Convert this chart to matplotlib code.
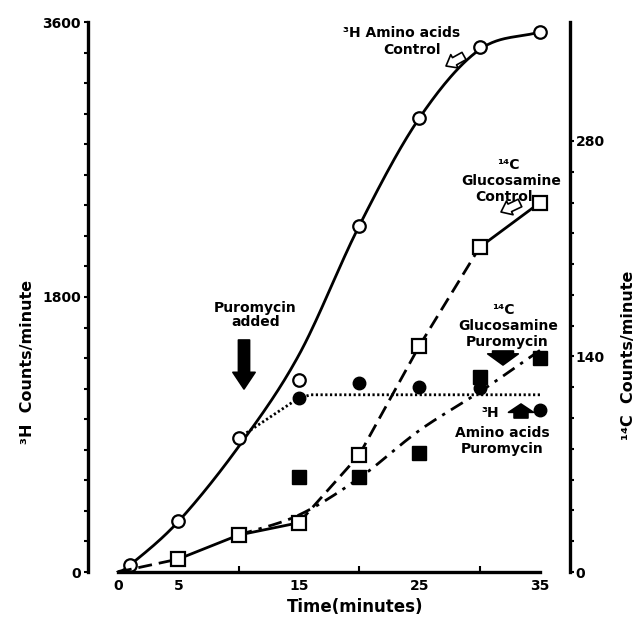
import numpy as np
import matplotlib
matplotlib.use("Agg")
import matplotlib.pyplot as plt
from matplotlib.ticker import FixedLocator, MultipleLocator

plt.rcParams['font.family'] = ['DejaVu Sans']
plt.rcParams['font.weight'] = 'bold'

# ---------------- data ----------------
# 3H amino acids, control (open circles, left axis)
amino_ctrl_t = [1, 5, 10, 15, 20, 25, 30, 35]
amino_ctrl_v = [46, 334, 877, 1257, 2265, 2972, 3436, 3535]
# hand-drawn fit through the control points
amino_ctrl_fit_t = [0, 1, 5, 10, 15, 20, 25, 30, 35]
amino_ctrl_fit_v = [0, 46, 330, 820, 1420, 2265, 2972, 3420, 3535]

# 3H amino acids, puromycin (filled circles, left axis)
amino_puro_t = [15, 20, 25, 30, 35]
amino_puro_v = [1139, 1237, 1211, 1204, 1060]
amino_puro_fit_t = [10, 15, 16, 35]
amino_puro_fit_v = [877, 1139, 1160, 1160]

# 14C glucosamine, control (open squares, right axis)
gluc_ctrl_t = [5, 10, 15, 20, 25, 30, 35]
gluc_ctrl_v = [8.4, 24, 32, 76, 147, 211, 240]
gluc_ctrl_line_t = [0, 5, 10, 15, 20, 25, 30, 35]
gluc_ctrl_line_v = [0, 8.4, 24, 32, 76, 147, 211, 240]

# 14C glucosamine, puromycin (filled squares, right axis)
gluc_puro_t = [15, 20, 25, 30, 35]
gluc_puro_v = [62, 62, 77, 127, 139]
gluc_puro_fit_t = [10, 15, 20, 25, 30, 35]
gluc_puro_fit_v = [24, 37, 61, 92, 117, 144]

x_major = [0, 5, 15, 25, 35]
x_minor = [10, 20, 30]
left_major = [0, 1800, 3600]
right_major = [0, 140, 280]

# ---------------- helpers ----------------
W, H = 639, 623


def catmull(xs, ys, n=30):
    xs = np.asarray(xs, float)
    ys = np.asarray(ys, float)
    P = np.column_stack([xs, ys])
    P = np.vstack([2 * P[0] - P[1], P, 2 * P[-1] - P[-2]])
    out = []
    for i in range(1, len(P) - 2):
        p0, p1, p2, p3 = P[i - 1], P[i], P[i + 1], P[i + 2]
        s = np.linspace(0, 1, n)[:, None]
        pt = 0.5 * ((2 * p1) + (-p0 + p2) * s + (2 * p0 - 5 * p1 + 4 * p2 - p3) * s ** 2
                    + (-p0 + 3 * p1 - 3 * p2 + p3) * s ** 3)
        out.append(pt if i == 1 else pt[1:])
    out = np.vstack(out)
    return out[:, 0], out[:, 1]


def fp(x, y):
    """pixel (from top-left) -> figure fraction"""
    return x / W, 1 - y / H


# ---------------- figure ----------------
fig = plt.figure(figsize=(W / 100, H / 100), dpi=100)
ax = fig.add_axes([88 / W, (H - 572) / H, (570 - 88) / W, (572 - 22) / H])
ax2 = ax.twinx()

px_per_min = (540 - 118) / 35.0
ax.set_xlim(-30 / px_per_min, (570 - 118) / px_per_min)
ax.set_ylim(0, 3600)
ax2.set_ylim(0, 550 / (431.0 / 280))

for a in (ax, ax2):
    a.spines['top'].set_visible(False)
    a.patch.set_visible(False)
ax.spines['right'].set_visible(False)
ax2.spines['left'].set_visible(False)
ax2.spines['bottom'].set_visible(False)
ax.spines['bottom'].set_bounds(0, 35)
ax.spines['left'].set_bounds(0, 3600)
for s in (ax.spines['left'], ax.spines['bottom'], ax2.spines['right']):
    s.set_linewidth(2.4)

ax.xaxis.set_major_locator(FixedLocator(x_major))
ax.xaxis.set_minor_locator(FixedLocator(x_minor))
ax.tick_params(axis='x', which='major', length=0, pad=5, labelsize=10)
ax.tick_params(axis='x', which='minor', direction='in', length=4, width=1.5)

ax.yaxis.set_major_locator(FixedLocator(left_major))
ax.yaxis.set_minor_locator(MultipleLocator(200))
ax.tick_params(axis='y', which='major', direction='out', length=3, width=1.5, pad=2, labelsize=10)
ax.tick_params(axis='y', which='minor', direction='out', length=3, width=1.5)

ax2.yaxis.set_major_locator(FixedLocator(right_major))
ax2.tick_params(axis='y', which='major', direction='out', length=3, width=1.5, pad=1, labelsize=10)
ax2.tick_params(axis='y', which='minor', direction='out', length=3, width=1.5)
ax2.set_yticks([v for v in np.arange(0, 300, 20) if v not in right_major], minor=True)

for lab in ax.get_xticklabels() + ax.get_yticklabels() + ax2.get_yticklabels():
    lab.set_fontweight('bold')

# ---------------- lines ----------------
fx, fy = catmull(amino_ctrl_fit_t, amino_ctrl_fit_v)
ax.plot(fx, fy, color='black', lw=2.0, zorder=2)

ax.plot(amino_puro_fit_t, amino_puro_fit_v, color='black', lw=2.0,
        linestyle=(0, (0.8, 0.9)), zorder=2)

seg_styles = ['--', '-', '-', '--', '--', '--', '-']
for i, st in enumerate(seg_styles):
    ax2.plot(gluc_ctrl_line_t[i:i + 2], gluc_ctrl_line_v[i:i + 2], color='black',
             lw=2.0, linestyle=(0, (5, 2.5)) if st == '--' else '-', zorder=2)

gx, gy = catmull(gluc_puro_fit_t, gluc_puro_fit_v)
ax2.plot(gx, gy, color='black', lw=2.0, linestyle=(0, (5, 2.5, 1.2, 2.5)), zorder=2)

# ---------------- markers ----------------
ax.plot(amino_ctrl_t, amino_ctrl_v, 'o', ms=9, mfc='white', mec='black', mew=1.6, zorder=5)
ax.plot(amino_puro_t, amino_puro_v, 'o', ms=9, mfc='black', mec='black', zorder=5)
ax2.plot(gluc_ctrl_t, gluc_ctrl_v, 's', ms=10, mfc='white', mec='black', mew=1.6, zorder=5)
ax2.plot(gluc_puro_t, gluc_puro_v, 's', ms=10, mfc='black', mec='black', zorder=5)

# ---------------- texts ----------------
def t(x, y, s, size=10, **kw):
    fig.text(*fp(x, y), s, ha='center', va='center', fontsize=size,
             fontweight='bold', **kw)

t(402, 33, '³H Amino acids')
t(412, 50, 'Control')
t(508, 165, '¹⁴C')
t(511, 181, 'Glucosamine')
t(504, 197, 'Control')
t(255, 308, 'Puromycin')
t(256, 322, 'added')
t(503, 310, '¹⁴C')
t(508, 326, 'Glucosamine')
t(507, 342, 'Puromycin')
t(490, 413, '³H')
t(502, 433, 'Amino acids')
t(502, 449, 'Puromycin')

t(355, 607, 'Time(minutes)', size=12)
t(28, 362, '³H  Counts/minute', size=11.5, rotation=90)
t(628, 355, '¹⁴C  Counts/minute', size=11.5, rotation=90)


# ---------------- arrows ----------------
def arrow(x0, y0, x1, y1, style, fc, lw=1.2):
    ax.annotate('', xy=(x1, H - y1), xytext=(x0, H - y0),
                xycoords='figure pixels', textcoords='figure pixels',
                arrowprops=dict(arrowstyle=style, fc=fc, ec='black', lw=lw,
                                shrinkA=0, shrinkB=0), zorder=6)

arrow(244, 340, 244, 389, 'simple,head_width=1.6,head_length=1.2,tail_width=0.8', 'black')
arrow(464, 56, 446, 66, 'simple,head_width=1.1,head_length=0.7,tail_width=0.6', 'white')
arrow(520, 203, 501, 212, 'simple,head_width=1.1,head_length=0.7,tail_width=0.6', 'white')
arrow(503, 351, 503, 365, 'simple,head_width=2.2,head_length=0.8,tail_width=1.5', 'black')
arrow(521, 418, 521, 404, 'simple,head_width=1.8,head_length=0.6,tail_width=1.0', 'black')

fig.savefig('out.png', dpi=100)
